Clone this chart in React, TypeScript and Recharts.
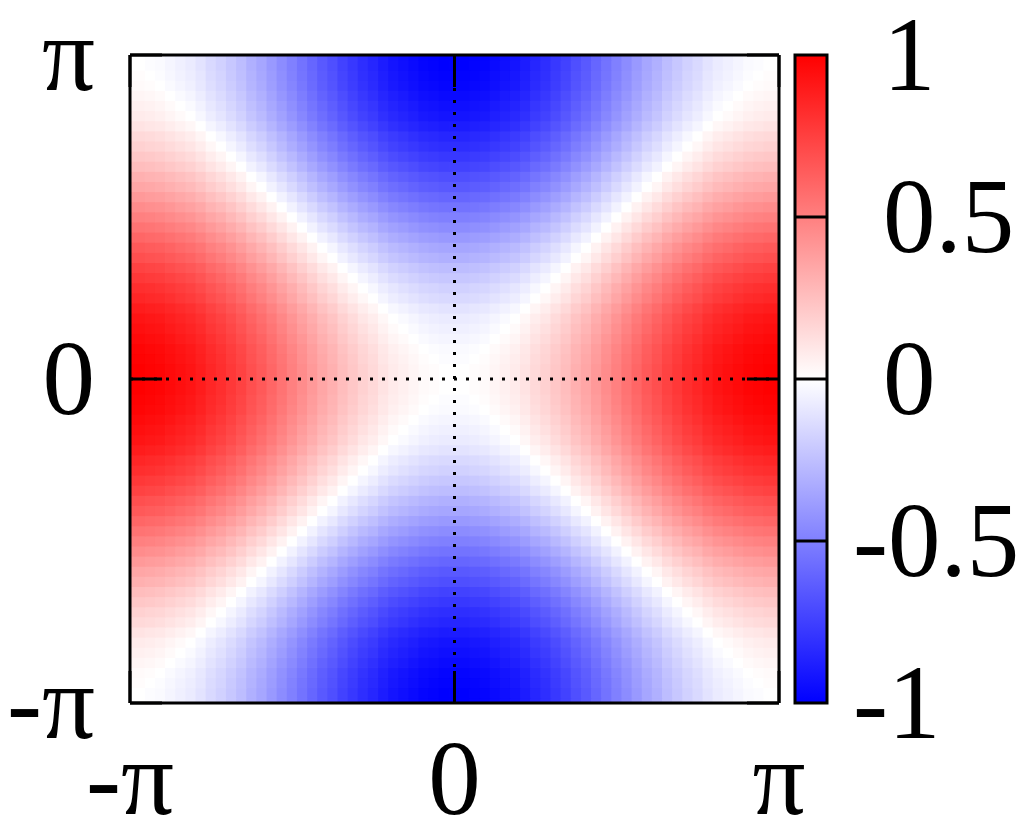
import React from 'react';
import {
  ScatterChart, Scatter, XAxis, YAxis, ReferenceLine,
  BarChart, Bar,
} from 'recharts';

const PI = Math.PI;

// Value read along the horizontal line y = 0, from x = -π to x = π
const rowAtY0 = [
  1.00, 1.00, 0.99, 0.98, 0.96, 0.94, 0.92, 0.89, 0.85, 0.82, 0.78, 0.74, 0.69, 0.65, 0.60, 0.55,
  0.50, 0.45, 0.40, 0.35, 0.31, 0.26, 0.22, 0.18, 0.15, 0.11, 0.08, 0.06, 0.04, 0.02, 0.01, 0.00,
  0.00,
  0.00, 0.01, 0.02, 0.04, 0.06, 0.08, 0.11, 0.15, 0.18, 0.22, 0.26, 0.31, 0.35, 0.40, 0.45, 0.50,
  0.55, 0.60, 0.65, 0.69, 0.74, 0.78, 0.82, 0.85, 0.89, 0.92, 0.94, 0.96, 0.98, 0.99, 1.00, 1.00,
];

// Value read along the vertical line x = 0, from y = -π to y = π
const colAtX0 = [
  -1.00, -1.00, -0.99, -0.98, -0.96, -0.94, -0.92, -0.89, -0.85, -0.82, -0.78, -0.74, -0.69, -0.65, -0.60, -0.55,
  -0.50, -0.45, -0.40, -0.35, -0.31, -0.26, -0.22, -0.18, -0.15, -0.11, -0.08, -0.06, -0.04, -0.02, -0.01, 0.00,
  0.00,
  0.00, -0.01, -0.02, -0.04, -0.06, -0.08, -0.11, -0.15, -0.18, -0.22, -0.26, -0.31, -0.35, -0.40, -0.45, -0.50,
  -0.55, -0.60, -0.65, -0.69, -0.74, -0.78, -0.82, -0.85, -0.89, -0.92, -0.94, -0.96, -0.98, -0.99, -1.00, -1.00,
];

const axisTicks = [-PI, 0, PI];
const axisTickLabels = ['-\u03c0', '0', '\u03c0'];
const cbTicks = [-1, -0.5, 0, 0.5, 1];
const cbTickLabels = ['-1', '-0.5', '0', '0.5', '1'];
const cbInnerTicks = [-0.5, 0, 0.5];

const stepX = (2 * PI) / (rowAtY0.length - 1);
const stepY = (2 * PI) / (colAtX0.length - 1);

const cells: { x: number; y: number; v: number }[] = [];
for (let j = 0; j < colAtX0.length; j++) {
  for (let i = 0; i < rowAtY0.length; i++) {
    cells.push({ x: -PI + i * stepX, y: -PI + j * stepY, v: rowAtY0[i] + colAtX0[j] });
  }
}

const W = 1030;
const H = 830;
const PL = 130;
const PR = 779;
const PT = 55;
const PB = 703;
const CBL = 795;
const CBR = 827;
const FONT = '"Liberation Serif", "Times New Roman", serif';
const FS = 105;
const TICK_LEN = (32 / (PB - PT)) * 2 * PI;

function colorOf(v: number) {
  const c = Math.max(-1, Math.min(1, v));
  if (c >= 0) {
    const g = Math.round(255 * (1 - c));
    return `rgb(255,${g},${g})`;
  }
  const r = Math.round(255 * (1 + c));
  return `rgb(${r},${r},255)`;
}

const CellShape = (props: any) => {
  const { cx, cy, payload } = props;
  const w = (PR - PL) / (rowAtY0.length - 1);
  const h = (PB - PT) / (colAtX0.length - 1);
  const x0 = Math.max(PL, cx - w / 2 - 0.4);
  const x1 = Math.min(PR, cx + w / 2 + 0.4);
  const y0 = Math.max(PT, cy - h / 2 - 0.4);
  const y1 = Math.min(PB, cy + h / 2 + 0.4);
  return <rect x={x0} y={y0} width={x1 - x0} height={y1 - y0} fill={colorOf(payload.v)} stroke="none" />;
};

const XTick = (props: any) => {
  const { x, index } = props;
  return (
    <text x={x} y={814} textAnchor="middle" fontFamily={FONT} fontSize={FS} fill="#000">
      {axisTickLabels[index]}
    </text>
  );
};

const YTick = (props: any) => {
  const { y, index } = props;
  return (
    <text x={95} y={y + 35} textAnchor="end" fontFamily={FONT} fontSize={FS} fill="#000">
      {axisTickLabels[index]}
    </text>
  );
};

const CbTick = (props: any) => {
  const { y, index } = props;
  const label = cbTickLabels[index];
  const neg = label.startsWith('-');
  return (
    <text x={neg ? 853 : 883} y={y + 35} textAnchor="start" fontFamily={FONT} fontSize={FS} fill="#000">
      {label}
    </text>
  );
};

const frame = { stroke: '#000', strokeWidth: 3 };
const abs: React.CSSProperties = { position: 'absolute', left: 0, top: 0 };

export default function App() {
  return (
    <div style={{ ...abs, width: W, height: H, background: '#fff' }}>
      {/* heat map cells */}
      <div style={abs}>
        <ScatterChart width={W} height={H} margin={{ top: PT, left: PL, right: W - PR, bottom: H - PB }}>
          <XAxis type="number" dataKey="x" domain={[-PI, PI]} hide allowDataOverflow />
          <YAxis type="number" dataKey="y" domain={[-PI, PI]} hide allowDataOverflow />
          <Scatter data={cells} shape={<CellShape />} isAnimationActive={false} />
        </ScatterChart>
      </div>
      {/* frame, axes, ticks and dotted zero lines */}
      <div style={abs}>
        <ScatterChart width={W} height={H} margin={{ top: 0, left: 0, right: 0, bottom: 0 }}>
          <XAxis type="number" dataKey="x" domain={[-PI, PI]} ticks={axisTicks} height={H - PB}
            tickLine={false} axisLine={frame} tick={<XTick />} interval={0} allowDataOverflow />
          <YAxis type="number" dataKey="y" domain={[-PI, PI]} ticks={axisTicks} width={PL}
            tickLine={false} axisLine={frame} tick={<YTick />} interval={0} allowDataOverflow />
          <XAxis xAxisId="top" orientation="top" type="number" domain={[-PI, PI]} height={PT}
            tick={false} tickLine={false} axisLine={frame} allowDataOverflow />
          <YAxis yAxisId="right" orientation="right" type="number" domain={[-PI, PI]} width={W - PR}
            tick={false} tickLine={false} axisLine={frame} allowDataOverflow />
          <Scatter data={[]} isAnimationActive={false} />
          <ReferenceLine segment={[{ x: 0, y: -PI }, { x: 0, y: PI }]} stroke="#000" strokeWidth={3} strokeDasharray="3 9" />
          <ReferenceLine segment={[{ x: -PI, y: 0 }, { x: PI, y: 0 }]} stroke="#000" strokeWidth={3} strokeDasharray="3 9" />
          {axisTicks.map((t) => (
            <ReferenceLine key={`b${t}`} segment={[{ x: t, y: -PI }, { x: t, y: -PI + TICK_LEN }]} stroke="#000" strokeWidth={3} />
          ))}
          {axisTicks.map((t) => (
            <ReferenceLine key={`t${t}`} segment={[{ x: t, y: PI }, { x: t, y: PI - TICK_LEN }]} stroke="#000" strokeWidth={3} />
          ))}
          {axisTicks.map((t) => (
            <ReferenceLine key={`l${t}`} segment={[{ x: -PI, y: t }, { x: -PI + TICK_LEN, y: t }]} stroke="#000" strokeWidth={3} />
          ))}
          {axisTicks.map((t) => (
            <ReferenceLine key={`r${t}`} segment={[{ x: PI, y: t }, { x: PI - TICK_LEN, y: t }]} stroke="#000" strokeWidth={3} />
          ))}
        </ScatterChart>
      </div>
      {/* colour bar */}
      <div style={abs}>
        <BarChart width={W} height={H} data={[{ n: 'cb', r: [-1, 1] }]}
          margin={{ top: PT, left: CBL, right: 0, bottom: H - PB }} barCategoryGap={0}>
          <defs>
            <linearGradient id="cbGrad" x1="0" y1="0" x2="0" y2="1">
              <stop offset="0%" stopColor="#ff0000" />
              <stop offset="50%" stopColor="#ffffff" />
              <stop offset="100%" stopColor="#0000ff" />
            </linearGradient>
          </defs>
          <XAxis dataKey="n" hide />
          <YAxis orientation="right" type="number" domain={[-1, 1]} ticks={cbTicks} width={W - CBR}
            tickLine={false} axisLine={false} tick={<CbTick />} interval={0} />
          <Bar dataKey="r" fill="url(#cbGrad)" stroke="#000" strokeWidth={3} isAnimationActive={false} />
          {cbInnerTicks.map((t) => (
            <ReferenceLine key={`cb${t}`} y={t} stroke="#000" strokeWidth={3} />
          ))}
        </BarChart>
      </div>
    </div>
  );
}
